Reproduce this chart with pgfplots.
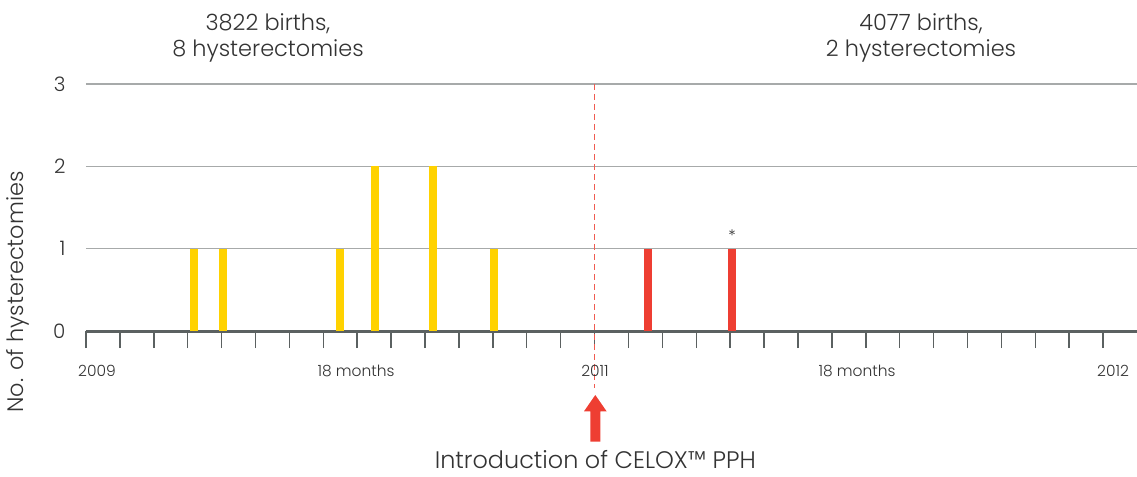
\documentclass[border=0pt]{standalone}
\usepackage{fontspec}
\IfFontExistsTF{Poppins Light}{\setmainfont{Poppins Light}}{\setmainfont{Poppins}}
\usepackage{pgfplots}
\pgfplotsset{compat=1.18}
\definecolor{ybarc}{HTML}{FFD200}
\definecolor{rbarc}{HTML}{EE3E32}
\definecolor{gridc}{HTML}{A7AAAA}
\definecolor{axc}{HTML}{5B6161}
\definecolor{txt}{HTML}{333333}
\begin{document}
\begin{tikzpicture}
\begin{axis}[
  at={(0,0)}, anchor=south west,
  scale only axis, width=1051bp, height=247bp,
  xmin=0, xmax=31, ymin=0, ymax=3,
  axis x line*=bottom, axis y line*=left,
  x axis line style={draw=axc, line width=3bp, -},
  y axis line style={draw=none},
  xtick={0,...,30}, xticklabels={},
  xtick style={draw=axc, line width=1.5bp},
  tick align=outside, major tick length=17bp,
  ytick={0,1,2,3}, ytick style={draw=none},
  ymajorgrids, grid style={gridc, line width=1.2bp},
  yticklabel style={font=\fontsize{20}{24}\selectfont, text=txt},
  /pgf/number format/assume math mode=true,
  clip=false,
]
\addplot[ycomb, draw=ybarc, line width=7.5bp, mark=none] coordinates {
  (3.18,1) (4.04,1) (7.49,1) (8.53,2) (10.23,2) (12.03,1)};
\addplot[ycomb, draw=rbarc, line width=7.5bp, mark=none] coordinates {
  (16.57,1) (19.06,1)};
\node[anchor=center, font=\fontsize{16}{18}\selectfont, text=txt, inner sep=0pt] at ([yshift=5bp]axis cs:19.06,1.1) {*};
\draw[rbarc!85, line width=1.2bp, dash pattern=on 6bp off 4bp] (axis cs:15,3) -- ([yshift=-57bp]axis cs:15,0);
\end{axis}
% arrow
\fill[rbarc] (509.3bp-5bp,-110.7bp) -- (509.3bp-5bp,-80.3bp) -- (509.3bp-11.3bp,-80.3bp) -- (509.3bp,-64bp) -- (509.3bp+11.3bp,-80.3bp) -- (509.3bp+5bp,-80.3bp) -- (509.3bp+5bp,-110.7bp) -- cycle;
\node[anchor=base, font=\fontsize{24}{28}\selectfont, text=txt, inner sep=0pt] at (509.3bp,-137.3bp) {Introduction of CELOX™ PPH};
% x labels
\begin{scope}[every node/.style={anchor=base, font=\fontsize{15.5}{18}\selectfont, text=txt, inner sep=0pt}]
\node at (11bp,-45bp) {2009};
\node at (270bp,-45bp) {18 months};
\node at (509bp,-45bp) {2011};
\node at (771bp,-45bp) {18 months};
\node at (1027bp,-45bp) {2012};
\end{scope}
% top labels
\begin{scope}[every node/.style={anchor=base, font=\fontsize{22.5}{26}\selectfont, text=txt, inner sep=0pt}]
\node at (182bp,300.3bp) {3822 births,};
\node at (182bp,274.3bp) {8 hysterectomies};
\node at (835bp,300.3bp) {4077 births,};
\node at (835bp,274.3bp) {2 hysterectomies};
\end{scope}
\node[rotate=90, font=\fontsize{22.5}{26}\selectfont, text=txt, inner sep=0pt] at (-68bp,39bp) {No. of hysterectomies};
\pgfresetboundingbox
\path (-86bp,-146bp) rectangle (1051bp,331bp);
\end{tikzpicture}
\end{document}
